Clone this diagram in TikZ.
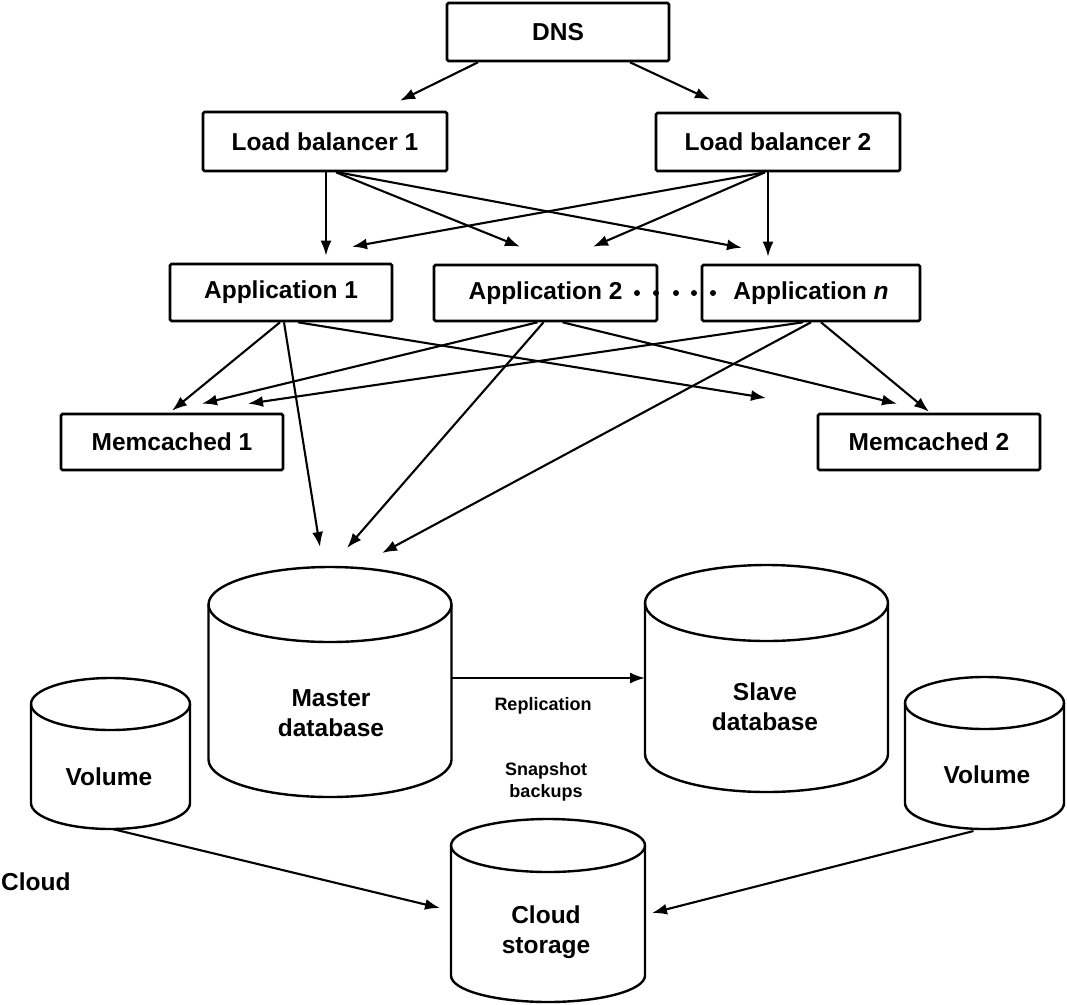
\documentclass[tikz,border=0pt]{standalone}
\usepackage{fontspec}
\setmainfont{Liberation Sans}
\usetikzlibrary{arrows.meta,calc}
% #1 name, #2 cx, #3 top, #4 bottom, #5 rx, #6 ry
\newcommand\mycyl[6]{%
  \node[minimum width=#5*2pt, minimum height=(#4-#3)*1pt, inner sep=0pt, outer sep=0pt] (#1) at (#2, {(#3+#4)/2}) {};
  \draw[cyl] (#2-#5, #3+#6) -- (#2-#5, #4-#6) arc[start angle=180, end angle=360, x radius=#5pt, y radius=#6pt] -- (#2+#5, #3+#6);
  \draw[cyl] (#2, #3+#6) ellipse[x radius=#5pt, y radius=#6pt];
}
\begin{document}
\begin{tikzpicture}[x=1pt,y=-1pt,
  box/.style={draw, line width=2.6pt, rounded corners=1.5pt, inner sep=0pt, font=\bfseries\fontsize{24.5}{28}\selectfont},
  lbl/.style={inner sep=0pt, align=center, font=\bfseries\fontsize{24.5}{30}\selectfont},
  small/.style={inner sep=0pt, align=center, font=\bfseries\fontsize{18}{22}\selectfont},
  arr/.style={line width=2.1pt, -{Latex[length=15pt,width=11pt]}},
  cyl/.style={line width=2.4pt}]
\useasboundingbox (0,0) rectangle (1067,1004);
% boxes
\node[box, minimum width=222pt, minimum height=58pt] (dns) at (558,32) {DNS};
\node[box, minimum width=244pt, minimum height=59pt] (lb1) at (325,141.5) {Load balancer 1};
\node[box, minimum width=244pt, minimum height=58pt] (lb2) at (778,142) {Load balancer 2};
\node[box, minimum width=222pt, minimum height=57pt] (app1) at (281,292.5) {Application 1};
\node[box, minimum width=223pt, minimum height=56pt] (app2) at (545.5,293) {Application 2};
\node[box, minimum width=218pt, minimum height=56pt] (appn) at (811,293) {Application \textit{n}};
\node[box, minimum width=222pt, minimum height=56pt] (mc1) at (172,442) {Memcached 1};
\node[box, minimum width=222pt, minimum height=56pt] (mc2) at (929,442) {Memcached 2};
\foreach \x in {637,656,676,694,713} \fill (\x,293) circle[radius=3pt];
% cylinders
\mycyl{master}{330}{567}{797}{121.5}{37.5}
\mycyl{slave}{766.5}{565}{792}{121.5}{38}
\mycyl{volL}{110.5}{678}{829}{79.5}{26}
\mycyl{volR}{984.5}{677}{829}{79.5}{26}
\mycyl{cloud}{548}{819}{1002}{97}{26.5}
\node[lbl] (mastertxt) at (331,713) {Master\\database};
\node[lbl] (slavetxt) at (765,707) {Slave\\database};
\node[lbl] (volLtxt) at (109,777) {Volume};
\node[lbl] (volRtxt) at (987,775) {Volume};
\node[lbl] (cloudtxt) at (546,932) {Cloud\\storage};
\node[small] (repl) at (543,706) {Replication};
\node[small] (snap) at (546,782) {Snapshot\\backups};
\node[lbl, anchor=west] (cloudlbl) at (1,882) {Cloud};
\coordinate (gap) at (766,398);
% DNS -> LBs
\draw[arr] ([xshift=-80pt]dns.south) -- ([shift={(75pt,10pt)}]lb1.north);
\draw[arr] ([xshift=72pt]dns.south) -- ([shift={(-68pt,12pt)}]lb2.north);
% LB1 -> apps
\draw[arr] ([xshift=1pt]lb1.south) -- ([shift={(45pt,7pt)}]app1.north);
\draw[arr] ([xshift=11pt]lb1.south) -- ([shift={(-25.5pt,17pt)}]app2.north);
\draw[arr] ([xshift=13pt]lb1.south) -- ([shift={(-69pt,16pt)}]appn.north);
% LB2 -> apps
\draw[arr] ([xshift=-13pt]lb2.south) -- ([shift={(71pt,16pt)}]app1.north);
\draw[arr] ([xshift=-13pt]lb2.south) -- ([shift={(47.5pt,17pt)}]app2.north);
\draw[arr] ([xshift=-10pt]lb2.south) -- ([shift={(-43pt,7pt)}]appn.north);
% App1
\draw[arr] ([xshift=-1pt]app1.south) -- ([yshift=2pt]mc1.north);
\draw[arr] ([xshift=3pt]app1.south) -- ([shift={(-10pt,20pt)}]master.north);
\draw[arr] ([xshift=17pt]app1.south) -- (gap);
% App2
\draw[arr] ([xshift=-8pt]app2.south) -- ([shift={(30pt,9pt)}]mc1.north);
\draw[arr] ([xshift=-2pt]app2.south) -- ([shift={(17pt,19pt)}]master.north);
\draw[arr] ([xshift=17pt]app2.south) -- ([shift={(-32pt,9pt)}]mc2.north);
% Appn
\draw[arr] ([xshift=-8pt]appn.south) -- ([shift={(76pt,9pt)}]mc1.north);
\draw[arr] ([xshift=0pt]appn.south) -- ([shift={(52pt,14pt)}]master.north);
\draw[arr] ([xshift=10pt]appn.south) -- ([yshift=1pt]mc2.north);
% bottom
\draw[arr] ([yshift=4pt]master.east) -- ([yshift=4pt]master.east -| slave.west);
\draw[arr] ([xshift=2pt]volL.south) -- ([shift={(-11pt,2.5pt)}]cloud.west);
\draw[arr] ([shift={(-11pt,-2pt)}]volR.south) -- ([shift={(7pt,-2.5pt)}]cloud.east);
\end{tikzpicture}
\end{document}
